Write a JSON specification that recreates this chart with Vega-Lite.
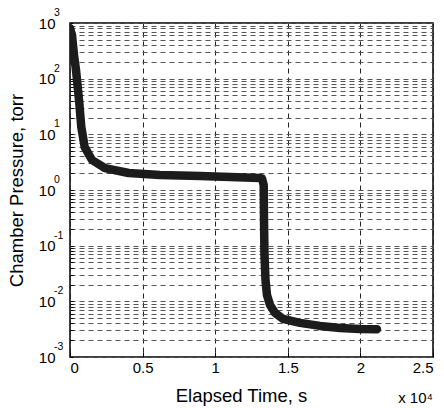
{
  "$schema": "https://vega.github.io/schema/vega-lite/v6.json",
  "width": 363,
  "height": 334,
  "autosize": "none",
  "padding": {"left": 70, "top": 23, "right": 11, "bottom": 51},
  "background": "white",
  "config": {
    "font": "Liberation Sans",
    "view": {"stroke": "black", "strokeWidth": 1.5},
    "axis": {"labelFont": "Liberation Sans", "titleFont": "Liberation Sans", "labelColor": "black", "titleColor": "black", "titleFontWeight": "normal"}
  },
  "title": {"text": "x 10⁴", "orient": "bottom", "anchor": "end", "frame": "group", "fontSize": 15, "fontWeight": "normal", "font": "Liberation Sans", "color": "black", "offset": -14},
  "datasets": {
    "pressure": [
      {"t": 0, "p": 810},
      {"t": 138, "p": 606},
      {"t": 207, "p": 401},
      {"t": 275, "p": 265},
      {"t": 413, "p": 143},
      {"t": 517, "p": 77},
      {"t": 640, "p": 36.5},
      {"t": 709, "p": 22.2},
      {"t": 778, "p": 13.5},
      {"t": 1012, "p": 5.9},
      {"t": 1515, "p": 3.46},
      {"t": 2410, "p": 2.48},
      {"t": 4043, "p": 2.02},
      {"t": 6198, "p": 1.86},
      {"t": 8953, "p": 1.78},
      {"t": 11019, "p": 1.71},
      {"t": 13085, "p": 1.64},
      {"t": 13223, "p": 1.61},
      {"t": 13340, "p": 1.23},
      {"t": 13361, "p": 0.289},
      {"t": 13395, "p": 0.068},
      {"t": 13464, "p": 0.0242},
      {"t": 13567, "p": 0.013},
      {"t": 13774, "p": 0.0086},
      {"t": 14118, "p": 0.0062},
      {"t": 14669, "p": 0.00483},
      {"t": 15840, "p": 0.0041},
      {"t": 17218, "p": 0.00362},
      {"t": 18595, "p": 0.00333},
      {"t": 19972, "p": 0.00317},
      {"t": 21143, "p": 0.00316}
    ],
    "exponents": [
      {"v": 0.001, "e": "-3"},
      {"v": 0.01, "e": "-2"},
      {"v": 0.1, "e": "-1"},
      {"v": 1, "e": "0"},
      {"v": 10, "e": "1"},
      {"v": 100, "e": "2"},
      {"v": 1000, "e": "3"}
    ]
  },
  "layer": [
    {
      "data": {"name": "pressure"},
      "mark": {"type": "line", "color": "#1c1c1c", "strokeWidth": 8.5, "strokeCap": "round", "strokeJoin": "round", "clip": true},
      "encoding": {
        "x": {
          "field": "t", "type": "quantitative",
          "scale": {"domain": [0, 25000], "nice": false, "zero": false},
          "axis": {
            "title": "Elapsed Time, s", "titleFontSize": 18.5, "titlePadding": 11, "titleX": 171,
            "values": [0, 5000, 10000, 15000, 20000, 25000],
            "labelExpr": "format(datum.value / 10000, '.2~f')",
            "labelFontSize": 15, "labelPadding": 8,
            "domain": false, "tickSize": -5, "tickColor": "black",
            "grid": true, "gridColor": "#222", "gridDash": [5, 4], "gridWidth": 1
          }
        },
        "y": {
          "field": "p", "type": "quantitative",
          "scale": {"type": "log", "domain": [0.001, 1000], "nice": false},
          "axis": {
            "title": "Chamber Pressure, torr", "titleFontSize": 18.5, "titlePadding": 12,
            "values": [0.001, 0.002, 0.003, 0.004, 0.005, 0.006, 0.007, 0.008, 0.009,
                       0.01, 0.02, 0.03, 0.04, 0.05, 0.06, 0.07, 0.08, 0.09,
                       0.1, 0.2, 0.3, 0.4, 0.5, 0.6, 0.7, 0.8, 0.9,
                       1, 2, 3, 4, 5, 6, 7, 8, 9,
                       10, 20, 30, 40, 50, 60, 70, 80, 90,
                       100, 200, 300, 400, 500, 600, 700, 800, 900, 1000],
            "labelExpr": "abs(log(datum.value)/LN10 - round(log(datum.value)/LN10)) < 0.001 ? '10' : ''",
            "labelFontSize": 15, "labelPadding": 18, "labelOffset": 0,
            "domain": false, "tickSize": -3, "tickColor": "black",
            "grid": true, "gridColor": "#555", "gridDash": [5, 4], "gridWidth": 1
          }
        }
      }
    },
    {
      "data": {"name": "exponents"},
      "mark": {"type": "text", "align": "left", "baseline": "middle", "dx": -16, "dy": -10, "fontSize": 10.5, "font": "Liberation Sans", "color": "black"},
      "encoding": {
        "x": {"datum": 0, "type": "quantitative"},
        "y": {"field": "v", "type": "quantitative"},
        "text": {"field": "e"}
      }
    }
  ]
}
